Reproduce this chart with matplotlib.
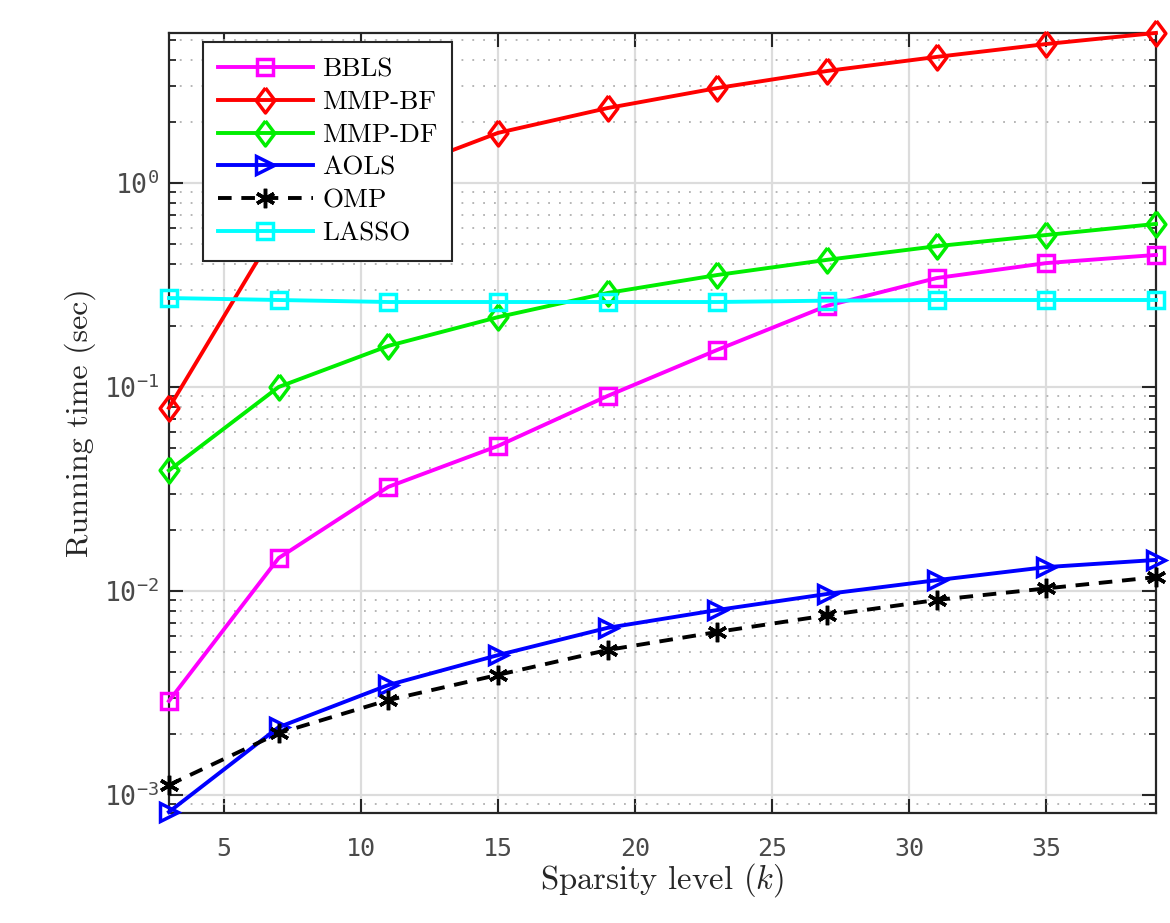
import matplotlib
matplotlib.use("Agg")
import matplotlib.pyplot as plt
from matplotlib.ticker import FixedLocator, LogLocator, NullLocator, FixedFormatter

plt.rcParams['mathtext.fontset'] = 'cm'

k = [3, 7, 11, 15, 19, 23, 27, 31, 35, 39]
bbls = [0.00289, 0.0145, 0.0324, 0.0514, 0.0904, 0.152, 0.25, 0.342, 0.405, 0.444]
mmp_bf = [0.079, 0.62, 1.1, 1.76, 2.33, 2.92, 3.54, 4.15, 4.8, 5.44]
mmp_df = [0.039, 0.1, 0.159, 0.22, 0.289, 0.354, 0.42, 0.49, 0.556, 0.63]
aols = [0.000826, 0.00215, 0.00346, 0.00485, 0.0066, 0.00807, 0.00967, 0.0113, 0.0131, 0.0142]
omp = [0.00112, 0.00201, 0.00292, 0.00388, 0.00514, 0.0063, 0.0076, 0.00904, 0.0103, 0.0117]
lasso = [0.273, 0.267, 0.261, 0.261, 0.261, 0.261, 0.265, 0.267, 0.267, 0.267]

xticks = [5, 10, 15, 20, 25, 30, 35]
yticks = [1e-3, 1e-2, 1e-1, 1e0]
ytick_labels = [r'$\mathregular{10^{-3}}$', r'$\mathregular{10^{-2}}$',
                r'$\mathregular{10^{-1}}$', r'$\mathregular{10^{0}}$']

fig = plt.figure(figsize=(11.7, 9.23), dpi=100)
ax = fig.add_axes([0.1444, 0.1192, 0.988 - 0.1444, 0.9642 - 0.1192])

lw = 2.8
mew = 2.5
diamond = [(0, 1), (0.75, 0), (0, -1), (-0.75, 0), (0, 1)]
asterisk = (6, 2, 0)
common = dict(lw=lw, mfc='none', mew=mew, zorder=3, clip_on=False)
ax.plot(k, bbls, '-', color='#ff00ff', marker='s', ms=11, label='BBLS', **common)
ax.plot(k, mmp_bf, '-', color='#ff0000', marker=diamond, ms=18, label='MMP-BF', **common)
ax.plot(k, mmp_df, '-', color='#00ee00', marker=diamond, ms=18, label='MMP-DF', **common)
ax.plot(k, aols, '-', color='#0000ff', marker='>', ms=13, label='AOLS', **common)
ax.plot(k, omp, '--', color='black', marker=asterisk, ms=14, label='OMP', dashes=(3.5, 2.5), **common)
ax.plot(k, lasso, '-', color='#00ffff', marker='s', ms=11, label='LASSO', **common)

ax.set_yscale('log')
ax.set_xlim(3, 39)
ax.set_ylim(10 ** -3.088, 10 ** 0.735)

ax.xaxis.set_major_locator(FixedLocator(xticks))
ax.xaxis.set_minor_locator(NullLocator())
ax.yaxis.set_major_locator(FixedLocator(yticks))
ax.yaxis.set_major_formatter(FixedFormatter(ytick_labels))
ax.yaxis.set_minor_locator(LogLocator(base=10, subs=[2, 3, 4, 5, 6, 7, 8, 9], numticks=20))

ax.grid(True, which='major', color='#dcdcdc', lw=1.6, ls='-', zorder=0)
ax.grid(True, which='minor', axis='y', color='#b0b0b0', lw=1.3, ls=(0, (1, 5)), zorder=0)
ax.set_axisbelow(True)

ax.tick_params(which='both', direction='in', top=True, right=True, colors='#262626',
               labelcolor='#4a4a4a')
ax.tick_params(which='major', length=10, width=1.5, labelsize=18)
ax.tick_params(axis='y', which='major', labelsize=19)
ax.tick_params(axis='x', which='major', pad=17)
ax.tick_params(axis='y', which='major', pad=7)
ax.tick_params(which='minor', length=5, width=1.3)
for lab in ax.get_xticklabels() + ax.get_yticklabels():
    lab.set_fontfamily('DejaVu Sans Mono')
for s in ax.spines.values():
    s.set_color('#262626')
    s.set_linewidth(1.6)

ax.set_xlabel(r'Sparsity level ($k$)', fontfamily='cmr10', fontsize=23.5, labelpad=0, color='#262626')
ax.set_ylabel('Running time (sec)', fontfamily='cmr10', fontsize=23, labelpad=6, color='#262626')

leg = ax.legend(loc='upper left', bbox_to_anchor=(0.0344, 0.988), borderaxespad=0,
                prop={'family': 'cmr10', 'size': 19.5},
                fancybox=False, framealpha=1, edgecolor='#262626', handlelength=3.5,
                borderpad=0.55, labelspacing=0.33, handletextpad=0.35)
leg.get_frame().set_linewidth(1.5)

fig.savefig('out.png', dpi=100)
